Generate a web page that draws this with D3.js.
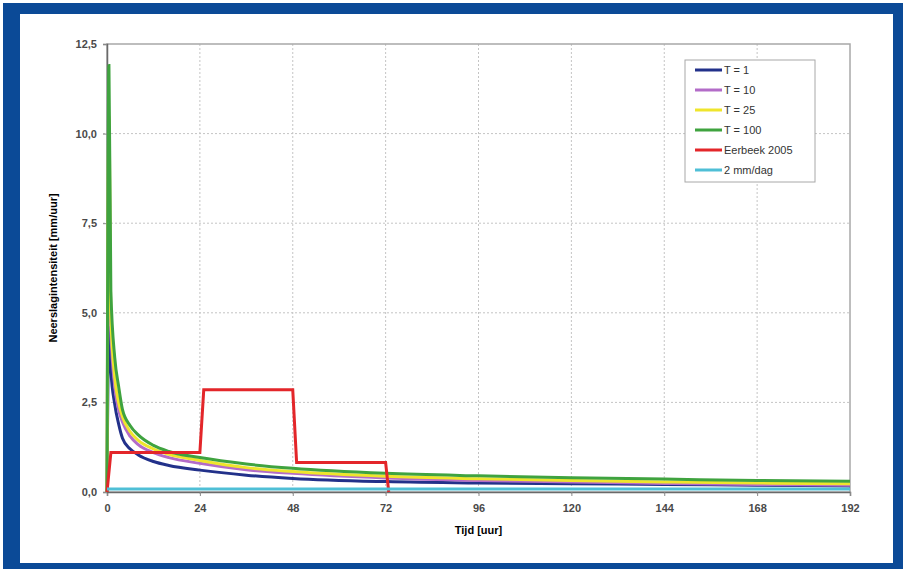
<!DOCTYPE html>
<html>
<head>
<meta charset="utf-8">
<script src="https://cdn.jsdelivr.net/npm/d3@7"></script>
<style>
  body { margin: 0; background: #fff; }
  text { font-family: "Liberation Sans", Arial, sans-serif; }
</style>
</head>
<body>
<svg id="chart"></svg>
<script>
// Neerslagintensiteit per herhalingstijd
const hours = [0, 0.5, 1, 2, 3, 4, 6, 8, 12, 16, 24, 36, 48, 72, 96, 120, 144, 168, 192];
const t1 = [0, 4.6, 3.4, 2.45, 1.9, 1.5, 1.2, 1.04, 0.85, 0.74, 0.61, 0.47, 0.38, 0.29, 0.25, 0.23, 0.21, 0.19, 0.17];
const t10 = [0, 9.5, 4.5, 2.95, 2.3, 1.95, 1.55, 1.33, 1.1, 0.96, 0.8, 0.62, 0.52, 0.39, 0.32, 0.28, 0.24, 0.21, 0.19];
const t25 = [0, 10.5, 4.9, 3.2, 2.5, 2.1, 1.68, 1.45, 1.2, 1.05, 0.88, 0.68, 0.57, 0.44, 0.37, 0.32, 0.28, 0.25, 0.23];
const t100 = [0, 11.9, 5.6, 3.75, 2.95, 2.3, 1.85, 1.6, 1.3, 1.13, 0.96, 0.78, 0.66, 0.52, 0.45, 0.4, 0.36, 0.32, 0.3];

const eerbeekHours = [0, 1, 24, 25, 48, 49, 72, 72.8];
const eerbeekValues = [0, 1.1, 1.1, 2.85, 2.85, 0.82, 0.82, 0];

const baseHours = [0, 192];
const baseValues = [0.0833, 0.0833];

const xTicks = [0, 24, 48, 72, 96, 120, 144, 168, 192];
const yTicks = [0, 2.5, 5, 7.5, 10, 12.5];

const seriesNames = ["T = 1", "T = 10", "T = 25", "T = 100", "Eerbeek 2005", "2 mm/dag"];
const seriesColors = ["#22318a", "#b36cc8", "#efe52c", "#3fa33f", "#e3262a", "#4fbfd6"];

const width = 909;
const height = 569;

function drawChart() {
    const svg = d3.select("#chart")
        .attr("width", width)
        .attr("height", height);

    // blue frame
    svg.append("rect")
        .attr("x", 3).attr("y", 3)
        .attr("width", 900).attr("height", 566)
        .attr("fill", "#0b4a97");
    svg.append("rect")
        .attr("x", 20).attr("y", 14)
        .attr("width", 873).attr("height", 549)
        .attr("fill", "#fff");

    const x = d3.scaleLinear().domain([0, 192]).range([107, 850]);
    const y = d3.scaleLinear().domain([0, 12.5]).range([492, 44]);

    // grid
    svg.append("g")
        .selectAll("line")
        .data(xTicks.slice(1, -1))
        .enter()
        .append("line")
        .attr("x1", d => x(d)).attr("x2", d => x(d))
        .attr("y1", y(12.5)).attr("y2", y(0) + 4)
        .attr("stroke", "#c4c4c4")
        .attr("stroke-dasharray", "2,2");
    svg.append("g")
        .selectAll("line")
        .data(yTicks.slice(1, -1))
        .enter()
        .append("line")
        .attr("x1", x(0) - 4).attr("x2", x(192))
        .attr("y1", d => y(d)).attr("y2", d => y(d))
        .attr("stroke", "#c4c4c4")
        .attr("stroke-dasharray", "2,2");

    // frame of plot area
    svg.append("rect")
        .attr("x", x(0)).attr("y", y(12.5))
        .attr("width", x(192) - x(0)).attr("height", y(0) - y(12.5))
        .attr("fill", "none")
        .attr("stroke", "#a8a8a8")
        .attr("stroke-width", 1.5);

    // axes
    const fmt = d => d3.format(".1f")(d).replace(".", ",");
    const xAxis = svg.append("g")
        .attr("transform", `translate(0,${y(0)})`)
        .call(d3.axisBottom(x).tickValues(xTicks).tickSize(4).tickPadding(8));
    const yAxis = svg.append("g")
        .attr("transform", `translate(${x(0)},0)`)
        .call(d3.axisLeft(y).tickValues(yTicks).tickFormat(fmt).tickSize(4).tickPadding(6));
    [xAxis, yAxis].forEach(a => {
        a.select(".domain").attr("stroke", "#6a6a6a").attr("stroke-width", 1.5);
        a.selectAll(".tick line").attr("stroke", "#8a8a8a");
        a.selectAll("text")
            .style("font-size", "11px")
            .style("font-weight", "bold")
            .attr("fill", "#4a4a4a");
    });

    // lines
    const curved = d3.line()
        .x(d => x(d[0]))
        .y(d => y(d[1]))
        .curve(d3.curveMonotoneX);
    const straight = d3.line()
        .x(d => x(d[0]))
        .y(d => y(d[1]));

    const curves = [t1, t10, t25, t100];
    curves.forEach((vals, i) => {
        svg.append("path")
            .datum(hours.map((h, j) => [h, vals[j]]))
            .attr("d", curved)
            .attr("fill", "none")
            .attr("stroke", seriesColors[i])
            .attr("stroke-width", 3);
    });
    svg.append("path")
        .datum(eerbeekHours.map((h, j) => [h, eerbeekValues[j]]))
        .attr("d", straight)
        .attr("fill", "none")
        .attr("stroke", seriesColors[4])
        .attr("stroke-width", 3);
    svg.append("path")
        .datum(baseHours.map((h, j) => [h, baseValues[j]]))
        .attr("d", straight)
        .attr("fill", "none")
        .attr("stroke", seriesColors[5])
        .attr("stroke-width", 3);

    // axis titles
    svg.append("text")
        .attr("x", (x(0) + x(192)) / 2)
        .attr("y", 534)
        .attr("text-anchor", "middle")
        .style("font-size", "11px")
        .style("font-weight", "bold")
        .text("Tijd [uur]");
    svg.append("text")
        .attr("transform", `translate(57,${(y(0) + y(12.5)) / 2}) rotate(-90)`)
        .attr("text-anchor", "middle")
        .style("font-size", "11px")
        .style("font-weight", "bold")
        .text("Neerslagintensiteit [mm/uur]");

    // legend
    const legend = svg.append("g").attr("transform", "translate(685,60)");
    legend.append("rect")
        .attr("width", 130).attr("height", 122)
        .attr("fill", "#fff")
        .attr("stroke", "#a8a8a8");
    const item = legend.selectAll(".item")
        .data(seriesNames)
        .enter()
        .append("g")
        .attr("transform", (d, i) => `translate(0,${10 + i * 20})`);
    item.append("line")
        .attr("x1", 10).attr("x2", 37)
        .attr("stroke", (d, i) => seriesColors[i])
        .attr("stroke-width", 3);
    item.append("text")
        .attr("x", 39)
        .attr("dy", "0.35em")
        .style("font-size", "11px")
        .attr("fill", "#333")
        .text(d => d);
}

window.onload = drawChart;
</script>
</body>
</html>
